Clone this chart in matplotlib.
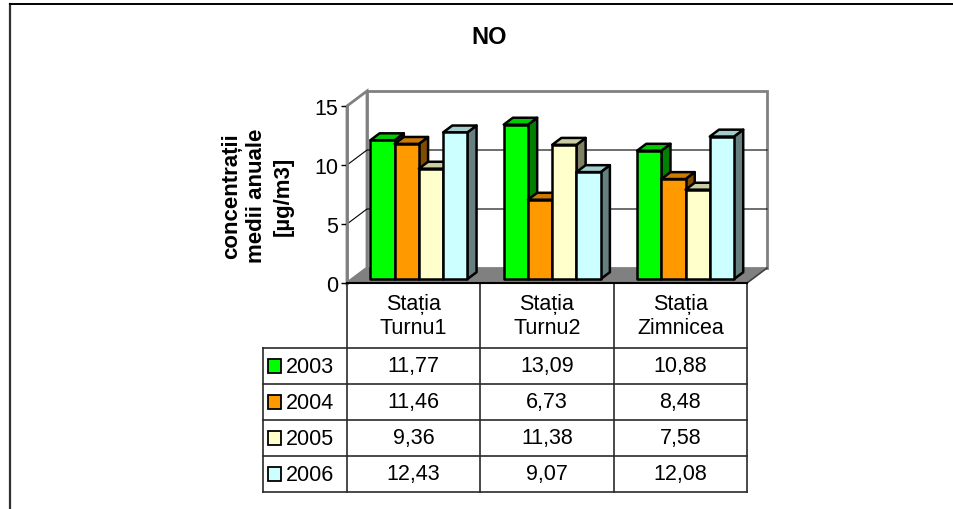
import matplotlib
matplotlib.use("Agg")
import matplotlib.pyplot as plt
from matplotlib.patches import Polygon, Rectangle
from matplotlib.lines import Line2D

plt.rcParams['font.family'] = ['Liberation Sans', 'DejaVu Sans']

# date: concentratii medii anuale NO pe statii
statii = ["Stația\nTurnu1", "Stația\nTurnu2", "Stația\nZimnicea"]
ani = ["2003", "2004", "2005", "2006"]
v2003 = [11.77, 13.09, 10.88]
v2004 = [11.46, 6.73, 8.48]
v2005 = [9.36, 11.38, 7.58]
v2006 = [12.43, 9.07, 12.08]
serii = [v2003, v2004, v2005, v2006]
culori = ["#00FF00", "#FF9900", "#FFFFCC", "#CCFFFF"]
yticks = [0, 5, 10, 15]


def nuanta(c, f):
    r, g, b = matplotlib.colors.to_rgb(c)
    return (r * f, g * f, b * f)


W, H = 954, 510
fig = plt.figure(figsize=(W / 100, H / 100), dpi=100)

# zona graficului (planul din fata), in pixeli
x0, x1 = 347, 747
ytop, ybot = 107, 284
ax = fig.add_axes([x0 / W, 1 - ybot / H, (x1 - x0) / W, (ybot - ytop) / H])
ax.set_xlim(0, 3)
ax.set_ylim(0, 15)

# adancimea 3D in unitati de date
px_x = (x1 - x0) / 3.0
px_y = (ybot - ytop) / 15.0
DX = 20 / px_x
DY = 15 / px_y
gri = "#808080"

# peretele lateral si cel din spate
ax.add_patch(Polygon([(0, 0), (DX, DY), (DX, 15 + DY), (0, 15)], closed=True,
                     facecolor="white", edgecolor=gri, lw=2, clip_on=False, zorder=1))
ax.add_patch(Rectangle((DX, DY), 3, 15, facecolor="white", edgecolor=gri,
                       lw=2, clip_on=False, zorder=1))
for v in yticks[1:-1]:
    ax.plot([0, DX, 3 + DX], [v, v + DY, v + DY], color="black", lw=0.8,
            clip_on=False, zorder=2)

# podeaua
ax.add_patch(Polygon([(0, 0), (3, 0), (3 + DX, DY), (DX, DY)], closed=True,
                     facecolor=gri, edgecolor="none", clip_on=False, zorder=2))
ax.plot([3, 3 + DX], [0, DY], color="#404040", lw=1.2, clip_on=False, zorder=2)

# barele 3D
lat = 1 / 5.5
off = 0.75 * lat
d0, d1 = 0.26, 0.72
for i in range(3):
    for j, (vals, c) in enumerate(zip(serii, culori)):
        v = vals[i]
        xa = i + off + j * lat + d0 * DX
        xb = xa + lat
        ya = d0 * DY
        ex, ey = (d1 - d0) * DX, (d1 - d0) * DY
        kw = dict(closed=True, edgecolor="black", lw=1.8, clip_on=False,
                  joinstyle="round", zorder=3)
        ax.add_patch(Polygon([(xb, ya), (xb + ex, ya + ey), (xb + ex, ya + v + ey),
                              (xb, ya + v)], facecolor=nuanta(c, 0.5), **kw))
        ax.add_patch(Polygon([(xa, ya + v), (xb, ya + v), (xb + ex, ya + v + ey),
                              (xa + ex, ya + v + ey)], facecolor=nuanta(c, 0.8), **kw))
        ax.add_patch(Polygon([(xa, ya), (xb, ya), (xb, ya + v), (xa, ya + v)],
                             facecolor=c, **kw))

# axa valorilor
for s in ["top", "right", "bottom"]:
    ax.spines[s].set_visible(False)
ax.spines["left"].set_color(gri)
ax.spines["left"].set_linewidth(2)
ax.spines["left"].set_zorder(4)
ax.set_xticks([])
ax.set_yticks(yticks)
ax.tick_params(axis="y", length=4.5, width=1, color="black", pad=2,
               labelsize=15.5)
ax.patch.set_visible(False)

ax.set_ylabel("concentrații\nmedii anuale\n[µg/m3]", fontsize=16,
              fontweight="bold", linespacing=1.3)
ax.yaxis.set_label_coords((257 - x0) / (x1 - x0), (ybot - 196) / (ybot - ytop))
ax.yaxis.label.set_verticalalignment("center")

# tabelul de date
kx = 84 / px_x
hh = 1.8
tb_bot = 493
tax = fig.add_axes([(x0 - 84) / W, 1 - tb_bot / H, (x1 - x0 + 84) / W,
                    (tb_bot - ybot) / H])
tax.set_xlim(-kx, 3)
tax.set_ylim(4, -hh)
tax.axis("off")
lc = "#2a2a2a"
for x in range(4):
    tax.plot([x, x], [-hh, 4], color=lc, lw=1.2, clip_on=False)
tax.plot([-kx, -kx], [0, 4], color=lc, lw=1.2, clip_on=False)
tax.plot([0, 3], [-hh, -hh], color="black", lw=1.5, clip_on=False)
for r in range(5):
    tax.plot([-kx, 3], [r, r], color=lc, lw=1.2, clip_on=False)

for i, s in enumerate(statii):
    tax.text(i + 0.5, -hh / 2, s, ha="center", va="center", fontsize=15.5,
             linespacing=1.15)
for r, (an, vals, c) in enumerate(zip(ani, serii, culori)):
    tax.add_patch(Rectangle((-kx + 5 / px_x, r + 0.31), 13 / px_x, 0.38,
                            facecolor=c, edgecolor="black", lw=1.3, clip_on=False))
    tax.text(-kx + 23 / px_x, r + 0.52, an, ha="left", va="center", fontsize=15.5)
    for i, v in enumerate(vals):
        tax.text(i + 0.5, r + 0.48, f"{v:.2f}".replace(".", ","), ha="center",
                 va="center", fontsize=15.5)

# titlu si chenar
fig.text(489 / W, 1 - 37 / H, "NO", ha="center", va="center", fontsize=17,
         fontweight="bold")
fig.add_artist(Line2D([10 / W, 10 / W], [0, 1 - 4.5 / H], color="#303030", lw=1.6))
fig.add_artist(Line2D([10 / W, 1], [1 - 4.5 / H, 1 - 4.5 / H], color="black", lw=1.4))

fig.savefig("out.png", dpi=100)
